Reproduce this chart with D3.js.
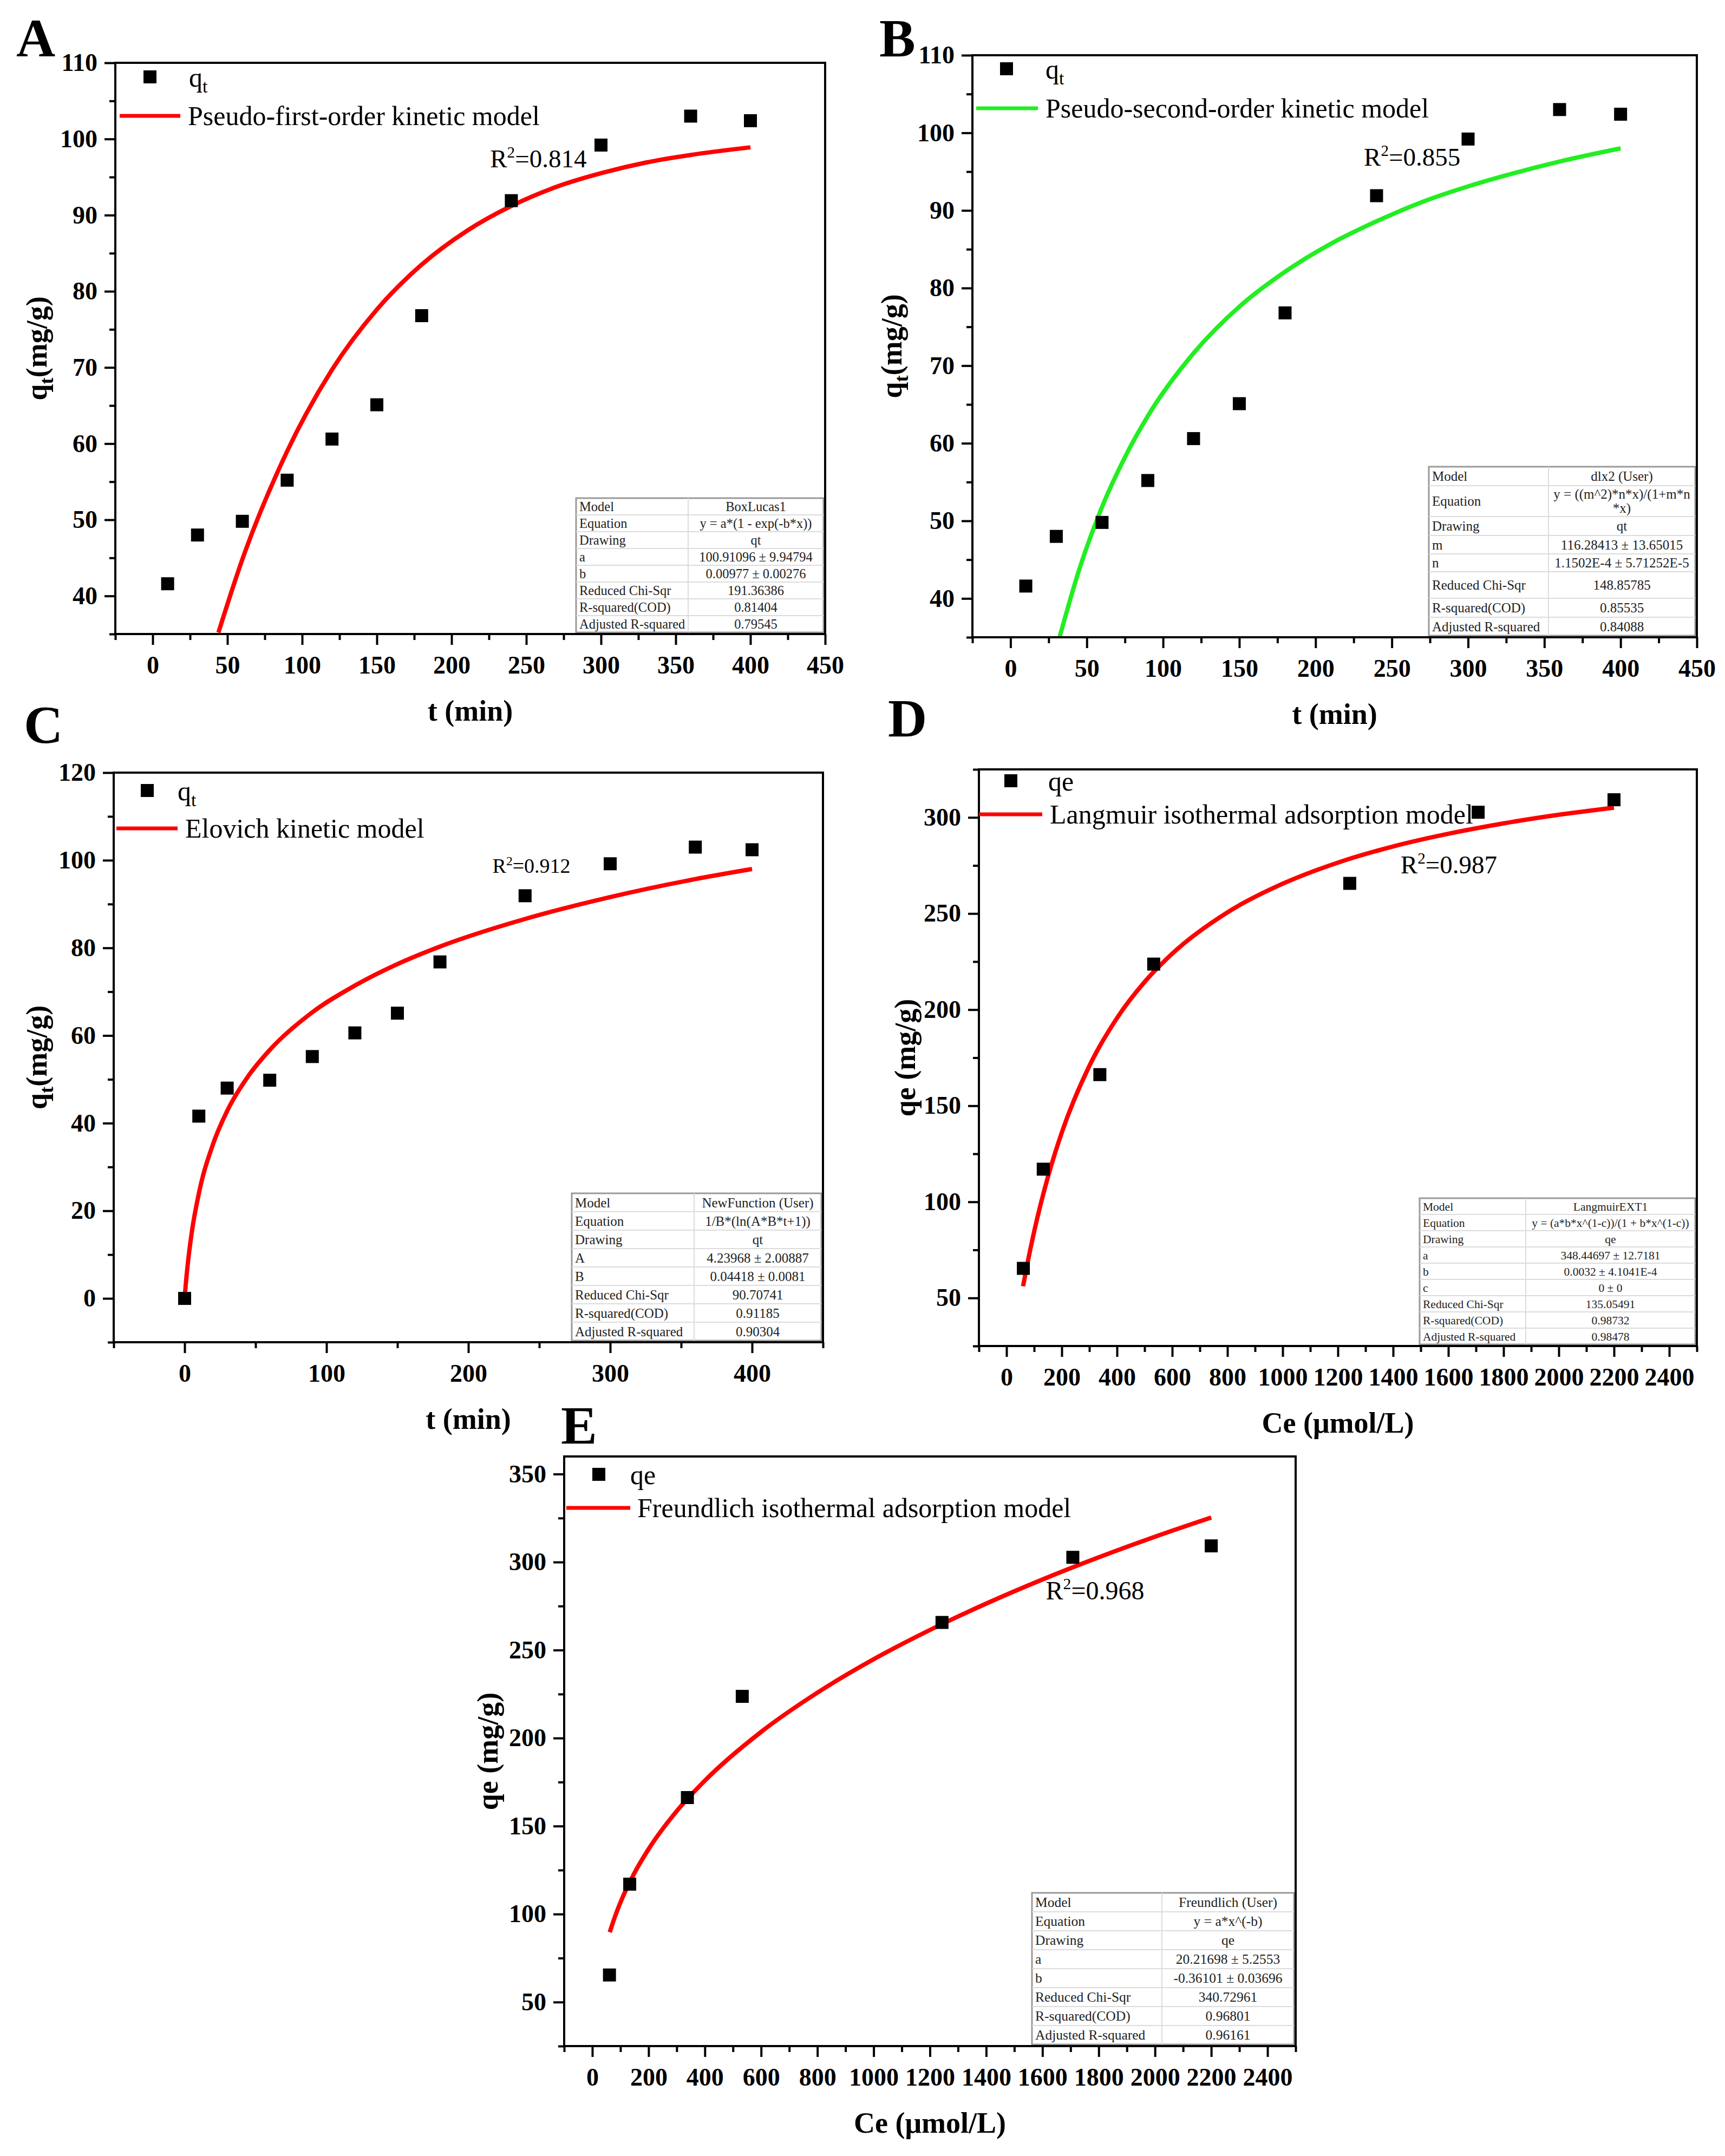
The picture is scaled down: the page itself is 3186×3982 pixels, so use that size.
<!DOCTYPE html>
<html>
<head>
<meta charset="utf-8">
<script src="https://cdn.jsdelivr.net/npm/d3@7"></script>
<style>
  body { margin: 0; background: #fff; }
  text { font-family: "Liberation Serif", "Times New Roman", serif; }
</style>
</head>
<body>
<svg id="fig" width="3186" height="3982"></svg>
<script>
// ---- data ----
var tKin = [10, 30, 60, 90, 120, 150, 180, 240, 300, 360, 400];
var qtKin = [41.6, 48.0, 49.8, 55.2, 60.6, 65.1, 76.8, 91.9, 99.2, 103.0, 102.4];
var tElo = [0, 10, 30, 60, 90, 120, 150, 180, 240, 300, 360, 400];
var qtElo = [0, 41.6, 48.0, 49.8, 55.2, 60.6, 65.1, 76.8, 91.9, 99.2, 103.0, 102.4];
var ceIso = [61, 133, 338, 533, 1243, 1708, 2200];
var qeIso = [65.4, 117.0, 166.2, 223.7, 265.7, 302.7, 309.2];

// fitted curves
var fitAx = [44, 60, 90, 120, 150, 180, 210, 240, 270, 300, 330, 360, 400];
var fitAy = [35.2, 44.8, 59.0, 69.7, 77.6, 83.5, 87.9, 91.2, 93.7, 95.5, 96.9, 97.9, 98.9];
var fitBx = [32, 45, 60, 75, 90, 120, 150, 180, 210, 240, 270, 300, 330, 360, 400];
var fitBy = [34.9, 43.7, 51.8, 58.2, 63.5, 71.6, 77.6, 82.1, 85.7, 88.6, 91.1, 93.1, 94.8, 96.3, 98.0];
var fitCx = [0, 0.5, 1, 2, 5, 10, 20, 30, 45, 60, 90, 120, 150, 180, 240, 300, 360, 400];
var fitCy = [0, 2.0, 3.9, 7.2, 15.0, 23.9, 35.2, 42.8, 50.8, 56.7, 65.3, 71.4, 76.3, 80.3, 86.6, 91.6, 95.7, 98.0];
var fitDx = [60, 80, 100, 150, 200, 300, 400, 500, 600, 800, 1000, 1200, 1400, 1600, 1800, 2000, 2200];
var fitDy = [56.1, 71.0, 84.5, 113.0, 136.0, 170.7, 195.6, 214.4, 229.1, 250.6, 265.5, 276.5, 284.9, 291.5, 296.9, 301.4, 305.1];
var fitEx = [62, 80, 100, 150, 200, 300, 400, 600, 800, 1000, 1200, 1400, 1600, 1800, 2000, 2200];
var fitEy = [89.7, 98.3, 106.6, 123.4, 136.9, 158.5, 175.8, 203.5, 225.8, 244.8, 261.4, 276.4, 290.1, 302.7, 314.4, 325.3];

// tick values
var tTicks = [0, 50, 100, 150, 200, 250, 300, 350, 400, 450];
var tMinor = [-25, 25, 75, 125, 175, 225, 275, 325, 375, 425];
var tTicksC = [0, 100, 200, 300, 400];
var tMinorC = [-50, 50, 150, 250, 350, 450];
var qtTicks = [40, 50, 60, 70, 80, 90, 100, 110];
var qtMinor = [35, 45, 55, 65, 75, 85, 95, 105];
var qtTicksC = [0, 20, 40, 60, 80, 100, 120];
var qtMinorC = [-10, 10, 30, 50, 70, 90, 110];
var ceTicks = [0, 200, 400, 600, 800, 1000, 1200, 1400, 1600, 1800, 2000, 2200, 2400];
var ceMinor = [-100, 100, 300, 500, 700, 900, 1100, 1300, 1500, 1700, 1900, 2100, 2300, 2500];
var qeTicksD = [50, 100, 150, 200, 250, 300];
var qeMinorD = [25, 75, 125, 175, 225, 275, 325];
var qeTicksE = [50, 100, 150, 200, 250, 300, 350];
var qeMinorE = [25, 75, 125, 175, 225, 275, 325];

// fit report tables
var tableA = [["Model", "BoxLucas1"], ["Equation", "y = a*(1 - exp(-b*x))"], ["Drawing", "qt"],
  ["a", "100.91096 ± 9.94794"], ["b", "0.00977 ± 0.00276"], ["Reduced Chi-Sqr", "191.36386"],
  ["R-squared(COD)", "0.81404"], ["Adjusted R-squared", "0.79545"]];
var tableB = [["Model", "dlx2 (User)"], ["Equation", "y = ((m^2)*n*x)/(1+m*n|*x)"], ["Drawing", "qt"],
  ["m", "116.28413 ± 13.65015"], ["n", "1.1502E-4 ± 5.71252E-5"], ["Reduced Chi-Sqr", "148.85785"],
  ["R-squared(COD)", "0.85535"], ["Adjusted R-squared", "0.84088"]];
var tableC = [["Model", "NewFunction (User)"], ["Equation", "1/B*(ln(A*B*t+1))"], ["Drawing", "qt"],
  ["A", "4.23968 ± 2.00887"], ["B", "0.04418 ± 0.0081"], ["Reduced Chi-Sqr", "90.70741"],
  ["R-squared(COD)", "0.91185"], ["Adjusted R-squared", "0.90304"]];
var tableD = [["Model", "LangmuirEXT1"], ["Equation", "y = (a*b*x^(1-c))/(1 + b*x^(1-c))"], ["Drawing", "qe"],
  ["a", "348.44697 ± 12.7181"], ["b", "0.0032 ± 4.1041E-4"], ["c", "0 ± 0"], ["Reduced Chi-Sqr", "135.05491"],
  ["R-squared(COD)", "0.98732"], ["Adjusted R-squared", "0.98478"]];
var tableE = [["Model", "Freundlich (User)"], ["Equation", "y = a*x^(-b)"], ["Drawing", "qe"],
  ["a", "20.21698 ± 5.2553"], ["b", "-0.36101 ± 0.03696"], ["Reduced Chi-Sqr", "340.72961"],
  ["R-squared(COD)", "0.96801"], ["Adjusted R-squared", "0.96161"]];

var svg = d3.select("#fig");
svg.append("rect").attr("width", 3186).attr("height", 3982).attr("fill", "#fff");

function styleAxis(sel, fs) {
  sel.select(".domain").remove();
  sel.selectAll(".tick line").attr("stroke", "#000").attr("stroke-width", 4);
  sel.selectAll(".tick text").attr("fill", "#000").attr("font-size", fs)
    .attr("font-weight", "bold").attr("font-family", "Liberation Serif, serif");
}

// name with subscript, e.g. q + t
function subText(t, base, sub, rest, fs) {
  t.append("tspan").text(base);
  t.append("tspan").attr("font-size", fs * 0.68).attr("dy", fs * 0.22).text(sub);
  if (rest) t.append("tspan").attr("dy", -fs * 0.22).text(rest);
}

function panel(p) {
  var g = svg.append("g");
  var x = d3.scaleLinear().domain(p.xDom).range([p.l, p.r]);
  var y = d3.scaleLinear().domain(p.yDom).range([p.b, p.t]);

  g.append("g").attr("transform", "translate(0," + p.b + ")")
    .call(d3.axisBottom(x).tickValues(p.xMinor).tickSize(11).tickFormat(""))
    .call(styleAxis, 46);
  g.append("g").attr("transform", "translate(0," + p.b + ")")
    .call(d3.axisBottom(x).tickValues(p.xMajor).tickSize(20).tickPadding(20).tickFormat(d3.format("d")))
    .call(styleAxis, 46);
  g.append("g").attr("transform", "translate(" + p.l + ",0)")
    .call(d3.axisLeft(y).tickValues(p.yMinor).tickSize(11).tickFormat(""))
    .call(styleAxis, 46);
  g.append("g").attr("transform", "translate(" + p.l + ",0)")
    .call(d3.axisLeft(y).tickValues(p.yMajor).tickSize(20).tickPadding(13).tickFormat(d3.format("d")))
    .call(styleAxis, 46);

  // fit table
  var tb = p.table, tw = tb.w, th = d3.sum(tb.rows);
  var tx = p.r - 3 - tw, ty = p.b - 3 - th;
  var tg = g.append("g");
  tg.append("rect").attr("x", tx).attr("y", ty).attr("width", tw).attr("height", th)
    .attr("fill", "#fff").attr("stroke", "#9a9a9a").attr("stroke-width", 3);
  var yy = ty;
  tb.data.forEach(function(row, i) {
    var h = tb.rows[i];
    if (i > 0) tg.append("line").attr("x1", tx).attr("x2", tx + tw).attr("y1", yy).attr("y2", yy)
      .attr("stroke", "#dcdcdc").attr("stroke-width", 2);
    tg.append("text").attr("x", tx + 6).attr("y", yy + h / 2).attr("dy", "0.35em")
      .attr("font-size", tb.fs).attr("fill", "#222").text(row[0]);
    var lines = row[1].split("|");
    lines.forEach(function(s, k) {
      tg.append("text").attr("x", tx + tb.div + (tw - tb.div) / 2)
        .attr("y", yy + h / 2 + (k - (lines.length - 1) / 2) * tb.fs * 1.05).attr("dy", "0.35em")
        .attr("text-anchor", "middle").attr("font-size", tb.fs).attr("fill", "#222").text(s);
    });
    yy += h;
  });
  tg.append("line").attr("x1", tx + tb.div).attr("x2", tx + tb.div).attr("y1", ty).attr("y2", ty + th)
    .attr("stroke", "#dcdcdc").attr("stroke-width", 2);

  // fitted curve
  var line = d3.line().x(function(d) { return x(d[0]); }).y(function(d) { return y(d[1]); })
    .curve(d3.curveMonotoneX);
  g.append("path").datum(d3.zip(p.fitX, p.fitY)).attr("d", line)
    .attr("fill", "none").attr("stroke", p.color).attr("stroke-width", 8);

  // data points
  g.selectAll(".pt").data(d3.zip(p.dataX, p.dataY)).enter().append("rect")
    .attr("x", function(d) { return x(d[0]) - 12; })
    .attr("y", function(d) { return y(d[1]) - 12; })
    .attr("width", 24).attr("height", 24).attr("fill", "#000");

  // frame
  g.append("rect").attr("x", p.l).attr("y", p.t).attr("width", p.r - p.l).attr("height", p.b - p.t)
    .attr("fill", "none").attr("stroke", "#000").attr("stroke-width", 4);

  // legend
  var lg = p.leg;
  g.append("rect").attr("x", p.l + lg.mx - 12).attr("y", p.t + lg.my - 12)
    .attr("width", 24).attr("height", 24).attr("fill", "#000");
  var t1 = g.append("text").attr("x", p.l + lg.tx).attr("y", p.t + lg.my).attr("dy", "0.35em")
    .attr("font-size", 50);
  if (p.yVar === "qt") subText(t1, "q", "t", null, 50); else t1.text("qe");
  g.append("line").attr("x1", p.l + lg.lx0).attr("x2", p.l + lg.lx1)
    .attr("y1", p.t + lg.ly).attr("y2", p.t + lg.ly)
    .attr("stroke", p.color).attr("stroke-width", 7);
  g.append("text").attr("x", p.l + lg.lt).attr("y", p.t + lg.ly).attr("dy", "0.33em")
    .attr("font-size", 50).text(p.legText);

  // R squared
  var r2 = g.append("text").attr("x", x(p.r2[0])).attr("y", y(p.r2[1])).attr("font-size", p.r2fs);
  r2.append("tspan").text("R");
  r2.append("tspan").attr("font-size", p.r2fs * 0.62).attr("dy", -p.r2fs * 0.38).text("2");
  r2.append("tspan").attr("dy", p.r2fs * 0.38).text("=" + p.r2[2]);

  // axis titles
  g.append("text").attr("x", (p.l + p.r) / 2).attr("y", p.b + 160).attr("text-anchor", "middle")
    .attr("font-size", 54).attr("font-weight", "bold").text(p.xTitle);
  var yt = g.append("text")
    .attr("transform", "translate(" + (p.l - p.yOff) + "," + (p.t + p.b) / 2 + ") rotate(-90)")
    .attr("text-anchor", "middle").attr("dy", "0.35em").attr("font-size", 54).attr("font-weight", "bold");
  if (p.yVar === "qt") subText(yt, "q", "t", "(mg/g)", 54); else yt.text("qe (mg/g)");

  // panel letter
  svg.append("text").attr("x", p.lx).attr("y", p.ly).attr("font-size", 100)
    .attr("font-weight", "bold").text(p.letter);
}

panel({
  letter: "A", lx: 30, ly: 104,
  l: 213, r: 1524, t: 116, b: 1171,
  xDom: [-25, 450], yDom: [35, 110], xMajor: tTicks, xMinor: tMinor, yMajor: qtTicks, yMinor: qtMinor,
  dataX: tKin, dataY: qtKin, fitX: fitAx, fitY: fitAy, color: "#ff0000",
  yVar: "qt", legText: "Pseudo-first-order kinetic model",
  leg: { mx: 64, my: 26, tx: 136, lx0: 8, lx1: 120, ly: 98, lt: 134 },
  r2: [225.8, 96.3, "0.814"], r2fs: 47,
  table: { data: tableA, w: 457, div: 207, rows: [31, 31, 31, 31, 31, 31, 31, 31], fs: 24.5 },
  xTitle: "t (min)", yOff: 146
});

panel({
  letter: "B", lx: 1624, ly: 104,
  l: 1796, r: 3134, t: 102, b: 1177,
  xDom: [-25, 450], yDom: [35, 110], xMajor: tTicks, xMinor: tMinor, yMajor: qtTicks, yMinor: qtMinor,
  dataX: tKin, dataY: qtKin, fitX: fitBx, fitY: fitBy, color: "#22ee22",
  yVar: "qt", legText: "Pseudo-second-order kinetic model",
  leg: { mx: 63, my: 25, tx: 135, lx0: 7, lx1: 121, ly: 98, lt: 135 },
  r2: [231.7, 95.8, "0.855"], r2fs: 47,
  table: { data: tableB, w: 492, div: 221, rows: [35, 57, 35, 34, 33, 49, 35, 34], fs: 25 },
  xTitle: "t (min)", yOff: 150
});

panel({
  letter: "C", lx: 44, ly: 1372,
  l: 210, r: 1520, t: 1427, b: 2479,
  xDom: [-50, 450], yDom: [-10, 120], xMajor: tTicksC, xMinor: tMinorC, yMajor: qtTicksC, yMinor: qtMinorC,
  dataX: tElo, dataY: qtElo, fitX: fitCx, fitY: fitCy, color: "#ff0000",
  yVar: "qt", legText: "Elovich kinetic model",
  leg: { mx: 62, my: 33, tx: 118, lx0: 5, lx1: 118, ly: 103, lt: 132 },
  r2: [217, 97.1, "0.912"], r2fs: 38,
  table: { data: tableC, w: 461, div: 226, rows: [34, 34, 34, 34, 34, 34, 34, 34], fs: 25 },
  xTitle: "t (min)", yOff: 143
});

panel({
  letter: "D", lx: 1640, ly: 1360,
  l: 1808, r: 3134, t: 1421, b: 2486,
  xDom: [-100, 2500], yDom: [25, 325], xMajor: ceTicks, xMinor: ceMinor, yMajor: qeTicksD, yMinor: qeMinorD,
  dataX: ceIso, dataY: qeIso, fitX: fitDx, fitY: fitDy, color: "#ff0000",
  yVar: "qe", legText: "Langmuir isothermal adsorption model",
  leg: { mx: 59, my: 21, tx: 128, lx0: 0, lx1: 117, ly: 83, lt: 131 },
  r2: [1427, 271, "0.987"], r2fs: 47,
  table: { data: tableD, w: 509, div: 196, rows: [30, 30, 30, 30, 30, 30, 30, 30, 30], fs: 21.5 },
  xTitle: "Ce (μmol/L)", yOff: 137
});

panel({
  letter: "E", lx: 1036, ly: 2666,
  l: 1042, r: 2393, t: 2690, b: 3779,
  xDom: [-100, 2500], yDom: [25, 360], xMajor: ceTicks, xMinor: ceMinor, yMajor: qeTicksE, yMinor: qeMinorE,
  dataX: ceIso, dataY: qeIso, fitX: fitEx, fitY: fitEy, color: "#ff0000",
  yVar: "qe", legText: "Freundlich isothermal adsorption model",
  leg: { mx: 64, my: 33, tx: 122, lx0: 4, lx1: 122, ly: 95, lt: 135 },
  r2: [1612, 278.9, "0.968"], r2fs: 48,
  table: { data: tableE, w: 484, div: 240, rows: [35, 35, 35, 35, 35, 35, 35, 35], fs: 25.5 },
  xTitle: "Ce (μmol/L)", yOff: 142
});
</script>
</body>
</html>
